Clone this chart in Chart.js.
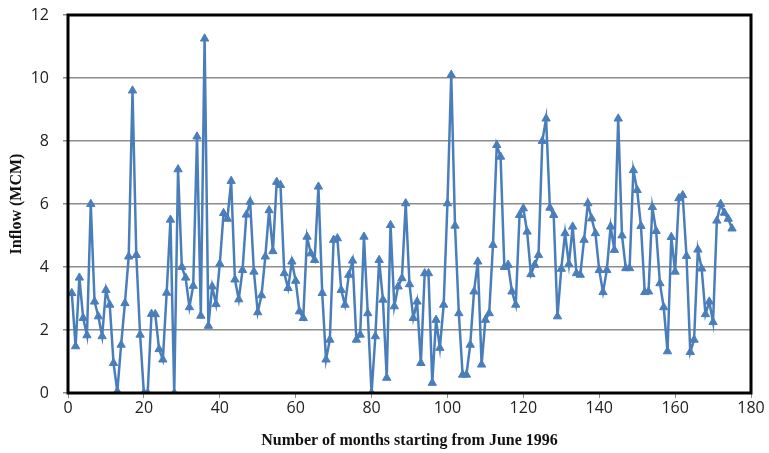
<!DOCTYPE html>
<html>
<head>
<meta charset="utf-8">
<script src="https://cdn.jsdelivr.net/npm/chart.js@4.4.1/dist/chart.umd.min.js"></script>
<style>
	html, body { margin: 0; padding: 0; background: #fff; }
	#wrap { width: 769px; height: 453px; }
</style>
</head>
<body>
<div id="wrap"><canvas id="inflowChart" width="769" height="453"></canvas></div>
<script>
// month index (starting June 1996) and monthly inflow
var months = [];
for (var m = 1; m <= 175; m++) months.push(m);

var inflow = [
	3.17, 1.48, 3.66, 2.38, 1.83, 6.00, 2.90, 2.43, 1.80, 3.27,
	2.80, 0.95, 0.05, 1.53, 2.85, 4.33, 9.60, 4.38, 1.85, 0.00,
	0.00, 2.51, 2.50, 1.39, 1.06, 3.18, 5.50, 0.00, 7.10, 4.00,
	3.66, 2.72, 3.40, 8.14, 2.45, 11.25, 2.13, 3.38, 2.82, 4.10,
	5.71, 5.53, 6.73, 3.60, 2.97, 3.90, 5.66, 6.07, 3.85, 2.56,
	3.10, 4.33, 5.80, 4.50, 6.70, 6.60, 3.80, 3.33, 4.17, 3.56,
	2.59, 2.38, 4.96, 4.43, 4.22, 6.55, 3.17, 1.06, 1.69, 4.86,
	4.91, 3.27, 2.80, 3.75, 4.20, 1.69, 1.85, 4.96, 2.53, 0.00,
	1.80, 4.22, 2.96, 0.48, 5.33, 2.75, 3.38, 3.64, 6.02, 3.45,
	2.38, 2.90, 0.95, 3.80, 3.80, 0.32, 2.32, 1.43, 2.80, 6.02,
	10.10, 5.31, 2.53, 0.58, 0.58, 1.53, 3.22, 4.17, 0.90, 2.32,
	2.53, 4.70, 7.87, 7.50, 4.00, 4.07, 3.22, 2.80, 5.65, 5.86,
	5.12, 3.77, 4.07, 4.38, 8.00, 8.71, 5.88, 5.65, 2.43, 3.94,
	5.07, 4.09, 5.28, 3.80, 3.75, 4.86, 6.02, 5.54, 5.07, 3.90,
	3.20, 3.90, 5.28, 4.54, 8.71, 5.00, 3.96, 3.96, 7.07, 6.44,
	5.30, 3.20, 3.22, 5.90, 5.14, 3.48, 2.72, 1.32, 4.95, 3.85,
	6.18, 6.28, 4.35, 1.30, 1.69, 4.55, 3.95, 2.50, 2.90, 2.25,
	5.47, 6.00, 5.72, 5.53, 5.22
];

var xTicks = [0, 20, 40, 60, 80, 100, 120, 140, 160, 180];
var yTicks = [0, 2, 4, 6, 8, 10, 12];

var points = months.map(function(mo, i) {
	return { x: mo, y: inflow[i] };
});

var blue = '#4a7ebb';

// thick black frame round the plot area
var framePlugin = {
	id: 'frame',
	afterDatasetsDraw: function(chart) {
		var a = chart.chartArea;
		var c = chart.ctx;
		c.save();
		c.strokeStyle = '#000';
		c.lineWidth = 3;
		c.strokeRect(a.left, a.top, a.right - a.left, a.bottom - a.top);
		c.restore();
	}
};

var ctx = document.getElementById('inflowChart');

var chart = new Chart(ctx, {
	type: 'line',
	data: {
		datasets: [{
			data: points,
			borderColor: blue,
			backgroundColor: blue,
			borderWidth: 2.5,
			pointStyle: 'triangle',
			pointRadius: 4.8,
			pointHoverRadius: 4.8,
			pointBorderWidth: 1,
			tension: 0
		}]
	},
	options: {
		responsive: false,
		animation: false,
		layout: { padding: { left: 0, right: 18, top: 15, bottom: 0 } },
		plugins: {
			legend: { display: false },
			tooltip: { enabled: false }
		},
		scales: {
			x: {
				type: 'linear',
				min: 0,
				max: 180,
				afterFit: function(s) {
					s.height = 60;
					s.paddingLeft = 0;
					s.paddingRight = 0;
				},
				afterBuildTicks: function(s) {
					s.ticks = xTicks.map(function(v) { return { value: v }; });
				},
				grid: {
					drawOnChartArea: false,
					drawTicks: true,
					tickLength: 5,
					color: '#888',
					lineWidth: 1
				},
				border: { display: false },
				ticks: {
					padding: 1,
					color: '#222',
					font: { family: 'Open Sans', size: 16 }
				},
				title: {
					display: true,
					text: 'Number of months starting from June 1996',
					color: '#111',
					font: { family: 'Liberation Serif', size: 16, weight: 'bold' },
					padding: { top: 0, bottom: 3 }
				}
			},
			y: {
				min: 0,
				max: 12,
				afterFit: function(s) {
					s.width = 68;
					s.paddingTop = 0;
					s.paddingBottom = 0;
				},
				afterBuildTicks: function(s) {
					s.ticks = yTicks.map(function(v) { return { value: v }; });
				},
				grid: {
					color: '#8c8c8c',
					lineWidth: 1.5,
					tickLength: 5
				},
				border: { display: false },
				ticks: {
					padding: 14,
					color: '#222',
					font: { family: 'Open Sans', size: 16 }
				},
				title: {
					display: true,
					text: 'Inflow (MCM)',
					color: '#111',
					font: { family: 'Liberation Serif', size: 16, weight: 'bold' },
					padding: { top: 7, bottom: 0 }
				}
			}
		}
	},
	plugins: [framePlugin]
});
</script>
</body>
</html>
